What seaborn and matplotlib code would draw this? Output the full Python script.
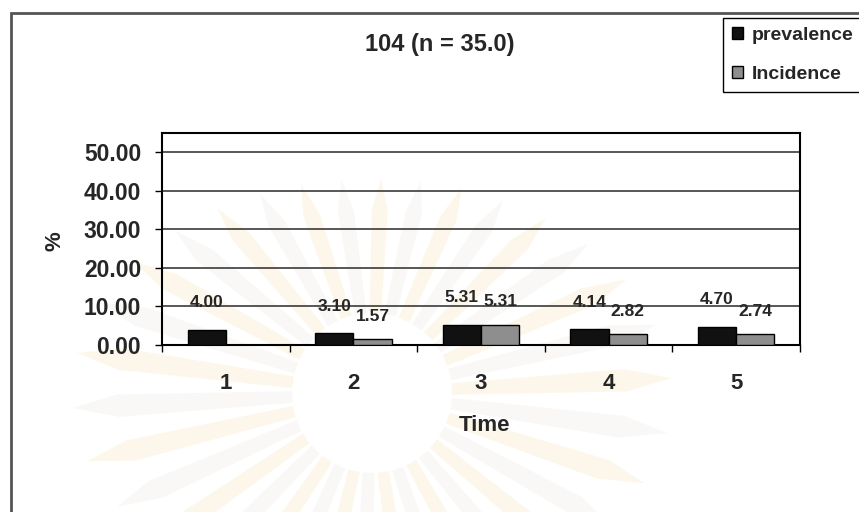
import numpy as np
import pandas as pd
import matplotlib
matplotlib.use("Agg")
import matplotlib.pyplot as plt
from matplotlib.patches import Polygon, Rectangle
from matplotlib.ticker import FormatStrFormatter
import seaborn as sns

# ---- data ----
time_points = ["1", "2", "3", "4", "5"]
prevalence = [4.00, 3.10, 5.31, 4.14, 4.70]
incidence = [np.nan, 1.57, 5.31, 2.82, 2.74]
series_names = ["prevalence", "Incidence"]
y_ticks = [0, 10, 20, 30, 40, 50]
chart_title = "104 (n = 35.0)"

df = pd.DataFrame({
    "Time": time_points * 2,
    "value": prevalence + incidence,
    "series": [series_names[0]] * len(time_points) + [series_names[1]] * len(time_points),
})

sns.set_style("white")
plt.rcParams["font.family"] = ["Liberation Sans", "DejaVu Sans"]

W, H = 859, 512
fig = plt.figure(figsize=(W / 100, H / 100), dpi=100)
fig.patch.set_facecolor("white")


def fx(px):
    return px / W


def fy(py):
    return 1 - py / H


# faint sunburst emblem in the background
cx, cy = 372, 393
r_in, rx, ry = 80, 300, 215
n_rays = 34
for i in range(n_rays):
    a = 2 * np.pi * i / n_rays + 0.05
    hw = np.deg2rad(4.2)
    pts = []
    for ang, r in [(a - hw, r_in), (a - hw * 0.6, None), (a, None), (a + hw * 0.6, None), (a + hw, r_in)]:
        if r is None:
            scale = 0.85 if ang != a else 1.0
            rr = scale * rx * ry / np.sqrt((ry * np.cos(ang)) ** 2 + (rx * np.sin(ang)) ** 2)
        else:
            rr = r
        px = cx + rr * np.cos(ang)
        py = cy - rr * np.sin(ang)
        pts.append((fx(px), fy(py)))
    col = "#f3dfa0" if i % 2 == 0 else "#e6e2d6"
    fig.add_artist(Polygon(pts, closed=True, transform=fig.transFigure,
                           facecolor=col, edgecolor="none", alpha=0.22, zorder=0))

# outer chart frame
fig.add_artist(Rectangle((fx(11), -0.5), 2.0, fy(13) + 0.5, transform=fig.transFigure,
                         fill=False, edgecolor="#555555", linewidth=2, zorder=1))

ax = fig.add_axes([fx(162), fy(345), fx(800) - fx(162), fy(133) - fy(345)])
ax.set_facecolor("none")

sns.barplot(data=df, x="Time", y="value", hue="series", hue_order=series_names,
            palette=["#111111", "#8e8e8e"], width=0.6, saturation=1,
            edgecolor="black", linewidth=1, ax=ax, zorder=3)

# value labels above bars
for cont, pad in zip(ax.containers, [14, 11]):
    ax.bar_label(cont, labels=[f"{v:.2f}" for v in cont.datavalues],
                 padding=pad, fontsize=12.5, fontweight="bold", color="#262626")

ax.set_ylim(0, 55)
ax.set_yticks(y_ticks)
ax.yaxis.set_major_formatter(FormatStrFormatter("%.2f"))
ax.set_xlim(-0.5, len(time_points) - 0.5)
ax.yaxis.grid(True, color="#2a2a2a", linewidth=1.1)
ax.xaxis.grid(False)
ax.set_axisbelow(True)

ax.set_xticks(np.arange(-0.5, len(time_points), 1.0), minor=True)
ax.tick_params(axis="x", which="major", length=0, pad=20, labelsize=16)
ax.tick_params(axis="x", which="minor", bottom=True, length=5, width=1, color="black", direction="out")
ax.tick_params(axis="y", which="major", left=True, length=5, width=1, color="black",
               direction="out", pad=10, labelsize=16.5)
for lab in ax.get_xticklabels() + ax.get_yticklabels():
    lab.set_fontweight("bold")

for sp in ax.spines.values():
    sp.set_visible(True)
    sp.set_color("black")
    sp.set_linewidth(1.5)

ax.set_xlabel("Time", fontsize=16, fontweight="bold")
ax.xaxis.set_label_coords(0.505, -0.33)
ax.set_ylabel("%", fontsize=16, fontweight="bold")
ax.yaxis.set_label_coords(-0.152, 0.49)

fig.text(fx(440), fy(45), chart_title, ha="center", va="center", fontsize=17, fontweight="bold")

handles, labels = ax.get_legend_handles_labels()
ax.get_legend().remove()
fig.legend(handles, labels, loc="upper left", bbox_to_anchor=(fx(723), fy(18)),
           bbox_transform=fig.transFigure, frameon=True, fancybox=False,
           edgecolor="black", framealpha=1, prop={"size": 14, "weight": "bold"},
           handlelength=0.6, handleheight=0.6, handletextpad=0.45,
           labelspacing=1.15, borderpad=0.45, borderaxespad=0)

fig.savefig("out.png", dpi=100)
